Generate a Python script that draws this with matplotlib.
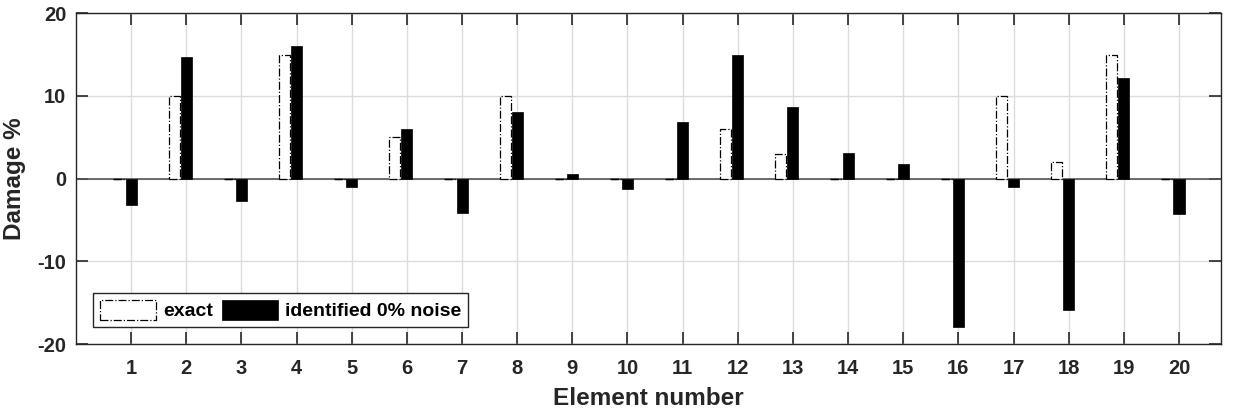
import numpy as np
import matplotlib.pyplot as plt

# element indices and damage values (%)
elementos = np.arange(1, 21)
dano_exato = [0, 10, 0, 15, 0, 5, 0, 10, 0, 0, 0, 6, 3, 0, 0, 0, 10, 2, 15, 0]
dano_identificado = [-3.2, 14.7, -2.7, 16.0, -1.0, 6.0, -4.2, 8.0, 0.6, -1.2,
                     6.9, 15.0, 8.7, 3.1, 1.8, -18.0, -1.0, -15.9, 12.2, -4.3]

plt.rcParams['font.family'] = ['Liberation Sans', 'DejaVu Sans']
plt.rcParams['font.weight'] = 'bold'
plt.rcParams['axes.unicode_minus'] = False

fig = plt.figure(figsize=(12.33, 4.11), dpi=100)
ax = fig.add_axes([0.0616, 0.163, 0.9286, 0.805])

largura = 0.2
ax.bar(elementos - 0.22, dano_exato, width=largura, facecolor='white',
       edgecolor='black', linestyle='-.', linewidth=0.9, zorder=3,
       label='exact')
ax.bar(elementos, dano_identificado, width=largura, color='black',
       edgecolor='black', linewidth=0.5, zorder=3,
       label='identified 0% noise')

ax.axhline(0, color='#555555', linewidth=1.2, zorder=2)

ax.set_xlim(0, 20.76)
ax.set_ylim(-20, 20)
ax.set_xticks(elementos)
ax.set_yticks([-20, -10, 0, 10, 20])
ax.grid(True, color='#dcdcdc', linewidth=1, zorder=0)

ax.tick_params(direction='in', length=8.5, width=1.2, top=True, right=True,
               labelsize=14.5, colors='#262626', labelcolor='#262626')
ax.tick_params(axis='x', pad=11)
ax.tick_params(axis='y', pad=7)
for lab in ax.get_xticklabels() + ax.get_yticklabels():
    lab.set_fontweight('bold')
for s in ax.spines.values():
    s.set_color('#262626')
    s.set_linewidth(1.0)

ax.set_xlabel('Element number', fontsize=17.5, fontweight='bold', color='#262626', labelpad=6)
ax.set_ylabel('Damage %', fontsize=17.5, fontweight='bold', color='#262626', labelpad=8)

leg = ax.legend(loc='lower left', ncol=2, bbox_to_anchor=(0.0148, 0.051),
                fancybox=False, framealpha=1, edgecolor='#262626',
                handlelength=2.9, handleheight=1.25, handletextpad=0.36,
                columnspacing=0.45, borderpad=0.35, borderaxespad=0,
                prop={'size': 14, 'weight': 'bold'})
leg.get_frame().set_linewidth(1.0)

plt.savefig('out.png', dpi=100)
